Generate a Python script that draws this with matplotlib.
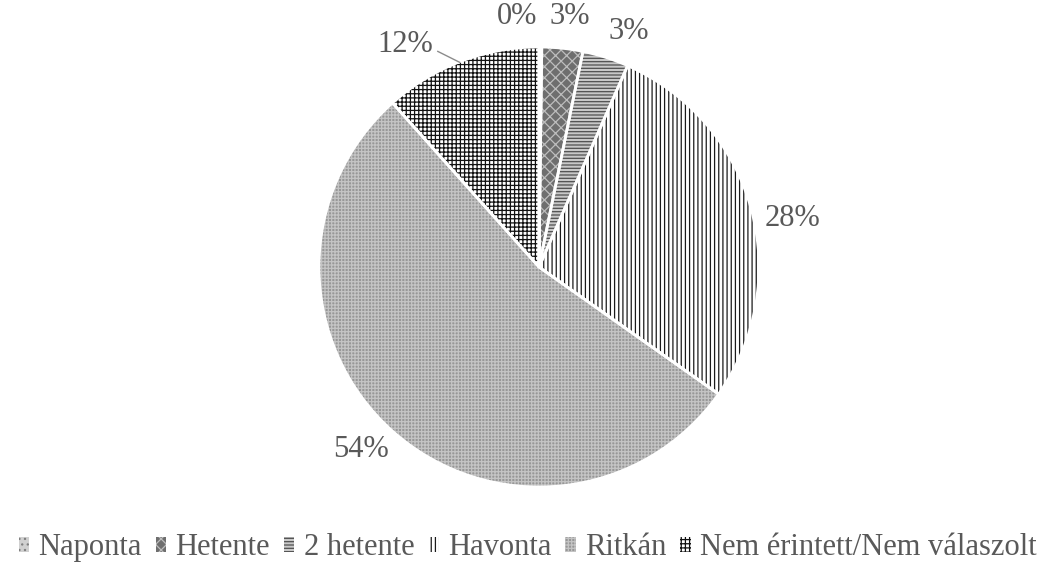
import matplotlib.pyplot as plt
import numpy as np

plt.rcParams['font.family'] = ['Liberation Serif', 'DejaVu Serif']
plt.rcParams['hatch.linewidth'] = 0.9

categories = ['Naponta', 'Hetente', '2 hetente', 'Havonta', 'Ritkán',
              'Nem érintett/Nem válaszolt']
shares = [0.2, 3.0, 3.4, 28.2, 53.6, 11.6]
pct_labels = ['0%', '3%', '3%', '28%', '54%', '12%']

# fill, hatch pattern, hatch colour per slice
faces = ['#d0d0d0', '#6e6e6e', '#c8c8c8', 'white', '#979797', 'white']
hatches = ['...', 'xxx', '-----', '||||', '+++++', '++++']
hatch_cols = ['#808080', '#bdbdbd', '#505050', '#1a1a1a', '#c4c4c4', '#111111']

text_col = '#595959'
fs = 22

fig = plt.figure(figsize=(10.55, 5.70), dpi=100)
cx, cy, r = 539 / 1055, 1 - 267 / 570, 220
ax = fig.add_axes([cx - r / 1055, cy - r / 570, 2 * r / 1055, 2 * r / 570])

# first pass: hatched fills (hatch takes the edge colour)
wedges, texts = ax.pie(shares, startangle=90, counterclock=False,
                       colors=faces, labels=pct_labels, labeldistance=1.15,
                       wedgeprops=dict(linewidth=0),
                       textprops=dict(color=text_col, fontsize=fs))
for w, h, hc in zip(wedges, hatches, hatch_cols):
    w.set_hatch(h)
    w.set_edgecolor(hc)

# second pass: white separators
ax.pie(shares, startangle=90, counterclock=False, radius=1.0,
       wedgeprops=dict(fill=False, edgecolor='white', linewidth=2))

# place labels the way the original sits
label_pos = [(-0.10, 1.14), (0.14, 1.14), (0.41, 1.07),
             (1.15, 0.22), (-0.81, -0.83), (-0.61, 1.01)]
for t, p in zip(texts, label_pos):
    t.set_position(p)
    t.set_ha('center')
    t.set_va('center')
ax.plot([-0.46, -0.36], [0.98, 0.93], color='#8c8c8c', lw=1)

ax.set_xlim(-1, 1)
ax.set_ylim(-1, 1)
ax.set_aspect('auto')
ax.axis('off')

handles = []
for f, h, hc in zip(faces, hatches, hatch_cols):
    p = plt.Rectangle((0, 0), 1, 1, facecolor=f, hatch=h, edgecolor=hc, linewidth=0)
    handles.append(p)
fig.legend(handles, categories, loc='lower center', bbox_to_anchor=(0.50, -0.035),
           ncol=6, frameon=False, fontsize=fs, labelcolor=text_col,
           handlelength=0.35, handleheight=0.35, handletextpad=0.3,
           columnspacing=0.45)

fig.savefig('out.png', dpi=100)
